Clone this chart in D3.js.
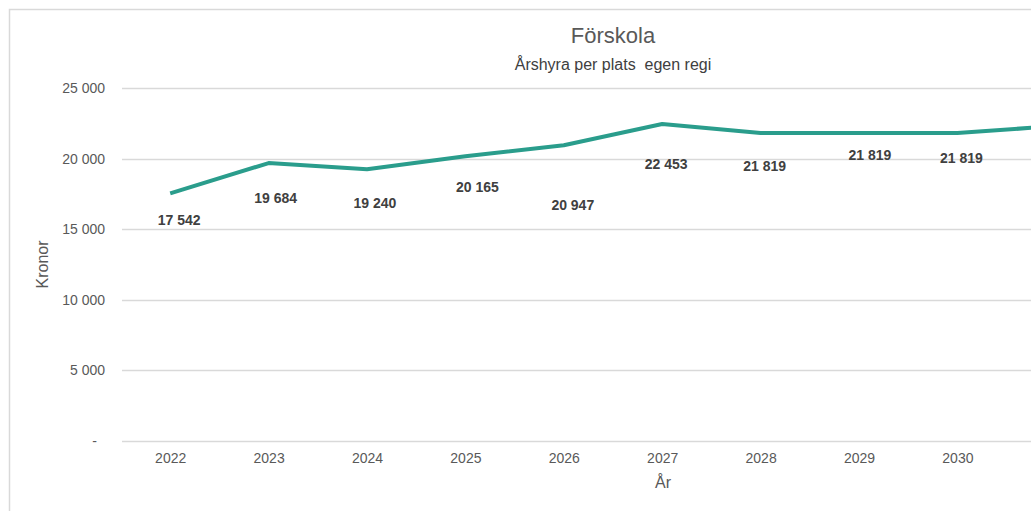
<!DOCTYPE html>
<html>
<head>
<meta charset="utf-8">
<script src="https://cdn.jsdelivr.net/npm/d3@7"></script>
<style>
  html, body { margin: 0; padding: 0; background: #fff; overflow: hidden; }
  svg { display: block; }
  text { font-family: "Liberation Sans", Arial, sans-serif; }
</style>
</head>
<body>
<svg id="chart" width="1031" height="511"></svg>
<script>
// ---- data ----
const years = ["2022", "2023", "2024", "2025", "2026", "2027", "2028", "2029", "2030", "2031"];
const values = [17542, 19684, 19240, 20165, 20947, 22453, 21819, 21819, 21819, 22300];
const yTicks = [0, 5000, 10000, 15000, 20000, 25000];
const title = "Förskola";
const subtitle = "Årshyra per plats  egen regi";
const yTitle = "Kronor";
const xTitle = "År";
// label placement offsets (px) relative to each point
const labelDx = [9, 7, 8, 12, 9, 4, 4, 11, 4, 4];
const labelDy = [28, 36, 35, 32, 61, 41, 34, 23, 26, 30];

const numFmt = v => d3.format(",")(v).replace(/,/g, " ");
const W = 1031;

const svg = d3.select("#chart");

// chart frame (cropped on right/bottom)
svg.append("rect")
  .attr("x", 9.5).attr("y", 9.5)
  .attr("width", 1300).attr("height", 600)
  .attr("fill", "#fff").attr("stroke", "#d9d9d9").attr("stroke-width", 1.5);

const x = d3.scalePoint().domain(years).range([121, 1105]).padding(0.5);
const y = d3.scaleLinear().domain([0, 25000]).range([441, 88]);

// gridlines
svg.append("g")
  .selectAll("line")
  .data(yTicks)
  .join("line")
  .attr("x1", 122).attr("x2", W)
  .attr("y1", d => Math.round(y(d)) + 0.5).attr("y2", d => Math.round(y(d)) + 0.5)
  .attr("stroke", "#d9d9d9").attr("stroke-width", 1.3);

// y axis labels
const yAxis = d3.axisLeft(y).tickValues(yTicks).tickSize(0).tickPadding(0)
  .tickFormat(d => d === 0 ? "-" : numFmt(d));
const gy = svg.append("g").attr("transform", "translate(105,0)").call(yAxis);
gy.select(".domain").remove();
gy.selectAll("text")
  .attr("fill", "#595959").attr("font-size", "14px")
  .attr("font-family", "'Liberation Sans', Arial, sans-serif")
  .attr("dx", d => d === 0 ? -8 : 0);

// x axis labels (only those inside the visible window)
const visibleYears = years.filter(yr => x(yr) + 20 < W);
const xAxis = d3.axisBottom(x).tickValues(visibleYears).tickSize(0).tickPadding(0);
const gx = svg.append("g").attr("transform", "translate(0,453)").call(xAxis);
gx.select(".domain").remove();
gx.selectAll("text")
  .attr("fill", "#595959").attr("font-size", "14px")
  .attr("font-family", "'Liberation Sans', Arial, sans-serif");

// line
const line = d3.line().x((d, i) => x(years[i])).y(d => y(d));
svg.append("path")
  .datum(values)
  .attr("d", line)
  .attr("fill", "none")
  .attr("stroke", "#2a9d8c")
  .attr("stroke-width", 4)
  .attr("stroke-linejoin", "round");

// data labels (visible ones)
const labelData = values.map((v, i) => ({ v, i })).filter(d => x(years[d.i]) + labelDx[d.i] + 25 < W);
svg.append("g")
  .selectAll("text")
  .data(labelData)
  .join("text")
  .attr("x", d => x(years[d.i]) + labelDx[d.i])
  .attr("y", d => y(d.v) + labelDy[d.i])
  .attr("text-anchor", "middle")
  .attr("dominant-baseline", "middle")
  .attr("font-size", "14px")
  .attr("font-weight", "bold")
  .attr("fill", "#404040")
  .text(d => numFmt(d.v));

// titles
svg.append("text")
  .attr("x", 613).attr("y", 43)
  .attr("text-anchor", "middle")
  .attr("font-size", "22px").attr("fill", "#595959")
  .text(title);
svg.append("text")
  .attr("x", 613).attr("y", 70)
  .attr("text-anchor", "middle")
  .attr("font-size", "16px").attr("fill", "#404040")
  .style("white-space", "pre")
  .text(subtitle);

// axis titles
svg.append("text")
  .attr("transform", `translate(48,${(y(0) + y(25000)) / 2}) rotate(-90)`)
  .attr("text-anchor", "middle")
  .attr("font-size", "16px").attr("fill", "#595959")
  .text(yTitle);
svg.append("text")
  .attr("x", 663).attr("y", 488)
  .attr("text-anchor", "middle")
  .attr("font-size", "16px").attr("fill", "#595959")
  .text(xTitle);
</script>
</body>
</html>
